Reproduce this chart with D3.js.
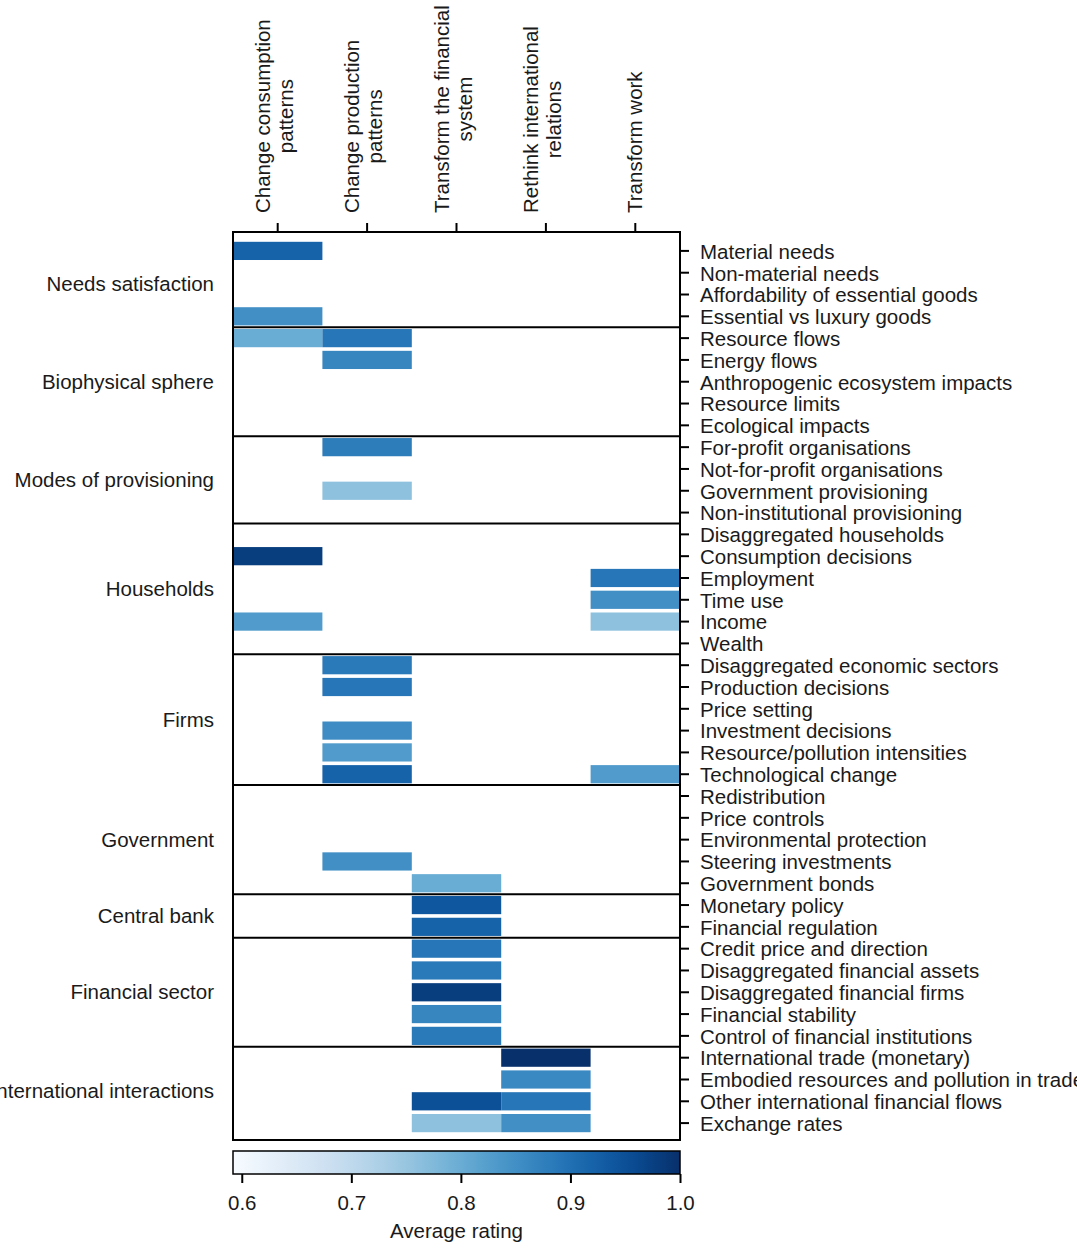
<!DOCTYPE html>
<html>
<head>
<meta charset="utf-8">
<script src="https://cdn.jsdelivr.net/npm/d3@7"></script>
<style>
  body { margin: 0; background: #fff; }
  svg { font-family: "Liberation Sans", Arial, sans-serif; }
</style>
</head>
<body>
<script>
// strategies on top, model features on the right
const columns = [
  ["Change consumption", "patterns"],
  ["Change production", "patterns"],
  ["Transform the financial", "system"],
  ["Rethink international", "relations"],
  ["Transform work"]
];

const groups = ["Needs satisfaction", "Biophysical sphere", "Modes of provisioning", "Households",
  "Firms", "Government", "Central bank", "Financial sector", "International interactions"];
const groupSizes = [4, 5, 4, 6, 6, 5, 2, 5, 4];

const rows = [
  "Material needs", "Non-material needs", "Affordability of essential goods", "Essential vs luxury goods",
  "Resource flows", "Energy flows", "Anthropogenic ecosystem impacts", "Resource limits", "Ecological impacts",
  "For-profit organisations", "Not-for-profit organisations", "Government provisioning", "Non-institutional provisioning",
  "Disaggregated households", "Consumption decisions", "Employment", "Time use", "Income", "Wealth",
  "Disaggregated economic sectors", "Production decisions", "Price setting", "Investment decisions",
  "Resource/pollution intensities", "Technological change",
  "Redistribution", "Price controls", "Environmental protection", "Steering investments", "Government bonds",
  "Monetary policy", "Financial regulation",
  "Credit price and direction", "Disaggregated financial assets", "Disaggregated financial firms",
  "Financial stability", "Control of financial institutions",
  "International trade (monetary)", "Embodied resources and pollution in trade",
  "Other international financial flows", "Exchange rates"
];

// average ratings, only the cells that are filled
const consumption = [
  ["Material needs", 0.92], ["Essential vs luxury goods", 0.85], ["Resource flows", 0.80],
  ["Consumption decisions", 0.98], ["Income", 0.83]
];
const production = [
  ["Resource flows", 0.89], ["Energy flows", 0.865], ["For-profit organisations", 0.88],
  ["Government provisioning", 0.76], ["Disaggregated economic sectors", 0.885],
  ["Production decisions", 0.89], ["Investment decisions", 0.855],
  ["Resource/pollution intensities", 0.83], ["Technological change", 0.92],
  ["Steering investments", 0.85]
];
const financial = [
  ["Government bonds", 0.80], ["Monetary policy", 0.94], ["Financial regulation", 0.92],
  ["Credit price and direction", 0.89], ["Disaggregated financial assets", 0.885],
  ["Disaggregated financial firms", 0.98], ["Financial stability", 0.865],
  ["Control of financial institutions", 0.885], ["Other international financial flows", 0.95],
  ["Exchange rates", 0.76]
];
const international = [
  ["International trade (monetary)", 1.0], ["Embodied resources and pollution in trade", 0.86],
  ["Other international financial flows", 0.89], ["Exchange rates", 0.85]
];
const work = [
  ["Employment", 0.89], ["Time use", 0.85], ["Income", 0.76], ["Technological change", 0.83]
];

const colorTicks = [0.6, 0.7, 0.8, 0.9, 1.0];

const series = [consumption, production, financial, international, work];
let cells = [];
series.forEach(function (s, i) {
  s.forEach(function (d) { cells.push({ col: i, row: d[0], value: d[1] }); });
});

const w = 1077, h = 1248;
const left = 233, right = 680;
const boxTop = 232, boxBottom = 1140;
const fs = 20.5;

const svg = d3.select("body").append("svg")
  .attr("width", w)
  .attr("height", h);

const x = d3.scaleBand().domain(d3.range(columns.length)).range([left, right]);
const y = d3.scaleBand().domain(rows).range([240, 1134]);
const vmin = 0.592, vmax = 1.0;
const color = d3.scaleSequential(d3.interpolateBlues).domain([vmin, vmax]);

// cells
svg.append("g").selectAll("rect")
  .data(cells)
  .enter()
  .append("rect")
  .attr("x", d => x(d.col))
  .attr("y", d => y(d.row) + 1.8)
  .attr("width", x.bandwidth())
  .attr("height", y.bandwidth() - 3.6)
  .attr("fill", d => color(d.value));

// group separators
let start = 0;
const groupInfo = groups.map(function (g, i) {
  const first = rows[start];
  const last = rows[start + groupSizes[i] - 1];
  start += groupSizes[i];
  return { name: g, top: y(first), bottom: y(last) + y.bandwidth() };
});

svg.append("g").selectAll("line")
  .data(groupInfo.slice(1))
  .enter()
  .append("line")
  .attr("x1", left).attr("x2", right)
  .attr("y1", d => d.top).attr("y2", d => d.top)
  .attr("stroke", "#000")
  .attr("stroke-width", 2);

svg.append("g").selectAll("text")
  .data(groupInfo)
  .enter()
  .append("text")
  .attr("x", 214)
  .attr("y", d => (d.top + d.bottom) / 2)
  .attr("dy", "0.35em")
  .attr("text-anchor", "end")
  .attr("font-size", fs)
  .attr("fill", "#1a1a1a")
  .text(d => d.name);

// box
svg.append("rect")
  .attr("x", left).attr("y", boxTop)
  .attr("width", right - left).attr("height", boxBottom - boxTop)
  .attr("fill", "none")
  .attr("stroke", "#000")
  .attr("stroke-width", 2);

// right axis
const yAxis = svg.append("g")
  .attr("transform", "translate(" + (right + 1) + ",0)")
  .call(d3.axisRight(y).tickSize(8).tickPadding(11));
yAxis.select(".domain").remove();
yAxis.selectAll(".tick line").attr("stroke-width", 2);
yAxis.selectAll("text")
  .attr("font-size", fs)
  .attr("dy", "0.38em")
  .attr("font-family", "Liberation Sans, Arial, sans-serif")
  .attr("fill", "#1a1a1a");

// top ticks and column labels
svg.append("g").selectAll("line")
  .data(d3.range(columns.length))
  .enter()
  .append("line")
  .attr("x1", d => x(d) + x.bandwidth() / 2)
  .attr("x2", d => x(d) + x.bandwidth() / 2)
  .attr("y1", boxTop).attr("y2", boxTop - 9)
  .attr("stroke", "#000")
  .attr("stroke-width", 2);

columns.forEach(function (lines, i) {
  const cx = x(i) + x.bandwidth() / 2;
  const g = svg.append("g")
    .attr("transform", "translate(" + cx + ",213) rotate(-90)");
  const offs = lines.length === 1 ? [7] : [-8, 15];
  const texts = lines.map(function (t, j) {
    return g.append("text")
      .attr("y", offs[j])
      .attr("text-anchor", "middle")
      .attr("font-size", fs)
      .attr("fill", "#1a1a1a")
      .text(t);
  });
  const maxLen = d3.max(texts, t => t.node().getComputedTextLength());
  texts.forEach(t => t.attr("x", maxLen / 2));
});

// colorbar
const cbTop = 1151, cbH = 23;
const cx = d3.scaleLinear().domain([vmin, vmax]).range([left, right]);
const defs = svg.append("defs");
const grad = defs.append("linearGradient").attr("id", "cbgrad");
d3.range(0, 1.0001, 0.05).forEach(function (t) {
  grad.append("stop")
    .attr("offset", (t * 100) + "%")
    .attr("stop-color", d3.interpolateBlues(t));
});
svg.append("rect")
  .attr("x", left).attr("y", cbTop)
  .attr("width", right - left).attr("height", cbH)
  .attr("fill", "url(#cbgrad)")
  .attr("stroke", "#000")
  .attr("stroke-width", 1.5);

const cbAxis = svg.append("g")
  .attr("transform", "translate(0," + (cbTop + cbH) + ")")
  .call(d3.axisBottom(cx).tickValues(colorTicks).tickFormat(d3.format(".1f")).tickSize(9).tickPadding(12));
cbAxis.select(".domain").remove();
cbAxis.selectAll(".tick line").attr("stroke-width", 2);
cbAxis.selectAll("text")
  .attr("font-size", fs)
  .attr("font-family", "Liberation Sans, Arial, sans-serif")
  .attr("fill", "#1a1a1a");

svg.append("text")
  .attr("x", (left + right) / 2)
  .attr("y", 1238)
  .attr("text-anchor", "middle")
  .attr("font-size", fs)
  .attr("fill", "#1a1a1a")
  .text("Average rating");
</script>
</body>
</html>
